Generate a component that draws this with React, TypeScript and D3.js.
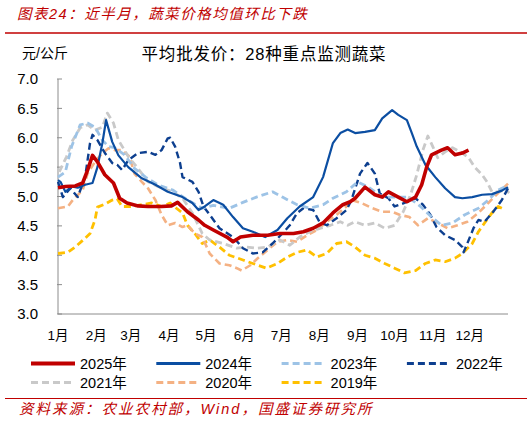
import { useMemo } from "react";
import * as d3 from "d3";

type Pt = [number, number]; // [day of year, 元/公斤]

const WIDTH = 531;
const HEIGHT = 421;
const FONT = "'Liberation Sans', 'Noto Sans CJK SC', sans-serif";
const RED = "#c00000";

const months = ["1月", "2月", "3月", "4月", "5月", "6月", "7月", "8月", "9月", "10月", "11月", "12月"];
const monthStartDays = [0, 31, 59, 90, 120, 151, 181, 212, 243, 273, 304, 334];
const yTicks = [3.0, 3.5, 4.0, 4.5, 5.0, 5.5, 6.0, 6.5, 7.0];

const p2025: Pt[] = [
  [0, 5.15], [6, 5.17], [14, 5.18], [20, 5.23], [24, 5.45], [28, 5.7], [32, 5.59], [38, 5.37],
  [45, 5.23], [50, 4.97], [56, 4.89], [65, 4.84], [73, 4.83], [84, 4.83], [92, 4.84], [97, 4.9],
  [105, 4.74], [114, 4.6], [119, 4.51], [126, 4.43], [137, 4.31], [142, 4.23], [148, 4.31],
  [158, 4.34], [170, 4.34], [180, 4.37], [191, 4.37], [199, 4.4], [207, 4.46], [215, 4.55],
  [223, 4.72], [231, 4.86], [237, 4.91], [241, 4.97], [249, 5.16], [257, 5.03], [263, 4.99],
  [268, 5.08], [276, 4.99], [283, 4.91], [290, 4.99], [295, 5.2], [299, 5.5], [303, 5.71],
  [311, 5.79], [316, 5.83], [322, 5.71], [328, 5.74], [333, 5.79],
];

const p2024: Pt[] = [
  [0, 5.28], [2, 5.25], [6, 5.08], [11, 5.17], [16, 5.15], [22, 5.2], [28, 5.23], [32, 5.5],
  [36, 5.91], [39, 6.3], [44, 5.93], [49, 5.7], [57, 5.5], [68, 5.31], [79, 5.2], [89, 5.08],
  [101, 4.99], [109, 4.89], [114, 4.77], [119, 4.83], [126, 4.94], [134, 4.86], [142, 4.65],
  [150, 4.46], [158, 4.4], [168, 4.31], [178, 4.43], [186, 4.63], [196, 4.83], [207, 4.99],
  [215, 5.33], [223, 5.91], [229, 6.08], [235, 6.14], [241, 6.08], [249, 6.1], [257, 6.13],
  [263, 6.33], [271, 6.47], [276, 6.39], [283, 6.3], [287, 6.08], [291, 5.85], [298, 5.54],
  [306, 5.33], [314, 5.14], [322, 4.99], [328, 4.97], [336, 4.99], [344, 5.03], [352, 5.04],
  [360, 5.1], [365, 5.16],
];

const p2023: Pt[] = [
  [0, 5.33], [6, 5.42], [11, 5.85], [18, 6.22], [24, 6.25], [30, 6.18], [36, 5.96], [41, 5.85],
  [46, 5.83], [54, 5.71], [62, 5.48], [71, 5.33], [81, 5.2], [93, 5.11], [103, 4.97], [111, 4.87],
  [117, 4.8], [126, 4.85], [139, 4.8], [150, 4.9], [161, 4.99], [174, 5.08], [182, 4.99],
  [194, 4.86], [204, 4.8], [215, 4.86], [223, 4.97], [234, 5.08], [243, 5.25], [251, 5.17],
  [263, 4.99], [273, 4.99], [284, 4.99], [294, 4.83], [303, 4.65], [311, 4.51], [320, 4.55],
  [330, 4.69], [341, 4.8], [349, 4.94], [357, 5.11], [365, 5.19],
];

const p2022: Pt[] = [
  [0, 5.25], [4, 4.99], [10, 5.14], [16, 4.99], [22, 5.33], [26, 5.91], [28, 6.05], [32, 5.96],
  [38, 5.74], [44, 5.57], [48, 5.54], [52, 5.45], [57, 5.62], [65, 5.74], [73, 5.76], [79, 5.71],
  [84, 5.79], [89, 5.99], [91, 6.0], [95, 5.85], [99, 5.57], [101, 5.33], [109, 5.25], [114, 5.08],
  [118, 4.83], [123, 4.69], [131, 4.46], [142, 4.31], [150, 4.12], [158, 4.03], [166, 4.05],
  [174, 4.2], [182, 4.37], [188, 4.51], [194, 4.72], [199, 4.8], [207, 4.77], [212, 4.57],
  [218, 4.51], [226, 4.63], [234, 4.77], [238, 4.94], [245, 5.39], [251, 5.57], [257, 5.39],
  [261, 5.05], [268, 4.97], [273, 4.83], [281, 4.89], [290, 4.97], [296, 4.86], [302, 4.69],
  [307, 4.48], [314, 4.34], [322, 4.26], [328, 4.14], [329, 4.05], [332, 4.2], [337, 4.46],
  [341, 4.6], [346, 4.57], [353, 4.74], [360, 4.94], [365, 5.14],
];

const p2021: Pt[] = [
  [1, 5.42], [7, 5.68], [12, 5.96], [18, 6.17], [24, 6.22], [30, 6.13], [36, 6.18], [40, 6.42],
  [45, 6.25], [49, 5.96], [57, 5.68], [64, 5.5], [73, 5.25], [81, 5.17], [93, 5.08], [101, 4.97],
  [109, 4.72], [117, 4.37], [123, 4.26], [134, 4.2], [145, 4.12], [153, 4.14], [161, 4.12],
  [170, 4.14], [180, 4.26], [188, 4.17], [196, 4.31], [204, 4.4], [213, 4.46], [221, 4.51],
  [229, 4.57], [235, 4.51], [241, 4.57], [249, 4.51], [257, 4.55], [265, 4.46], [273, 4.51],
  [280, 4.74], [286, 5.03], [291, 5.37], [296, 5.79], [300, 6.03], [304, 5.85], [308, 5.66],
  [314, 5.76], [320, 5.83], [328, 5.74], [333, 5.66], [338, 5.5], [344, 5.37], [348, 5.25],
  [352, 5.08], [357, 5.08], [363, 5.11], [366, 5.06],
];

const p2020: Pt[] = [
  [0, 4.8], [8, 4.83], [12, 4.94], [20, 5.11], [24, 5.39], [30, 5.59], [36, 5.74], [41, 5.82],
  [46, 5.79], [52, 5.79], [58, 5.68], [62, 5.39], [68, 5.25], [73, 5.14], [79, 4.94], [84, 4.69],
  [89, 4.51], [95, 4.55], [101, 4.48], [105, 4.51], [111, 4.37], [117, 4.31], [123, 4.03],
  [131, 3.86], [139, 3.83], [145, 3.78], [149, 3.74], [156, 3.83], [162, 3.95], [170, 4.09],
  [178, 4.23], [186, 4.26], [194, 4.23], [202, 4.34], [210, 4.43], [218, 4.57], [226, 4.69],
  [234, 4.83], [238, 4.94], [246, 4.89], [255, 4.8], [263, 4.74], [271, 4.74], [277, 4.69],
  [285, 4.65], [292, 4.51], [300, 4.63], [308, 4.55], [316, 4.46], [324, 4.51], [332, 4.57],
  [341, 4.72], [349, 4.89], [357, 5.06], [365, 5.22],
];

const p2019: Pt[] = [
  [0, 4.03], [8, 4.05], [14, 4.14], [22, 4.29], [26, 4.37], [30, 4.6], [32, 4.82], [38, 4.87],
  [44, 4.94], [48, 4.96], [52, 4.83], [60, 4.83], [68, 4.86], [76, 4.89], [84, 4.83], [91, 4.89],
  [96, 4.8], [101, 4.72], [105, 4.51], [111, 4.37], [117, 4.2], [123, 4.26], [131, 4.14],
  [139, 4.0], [150, 3.92], [158, 3.86], [169, 3.78], [178, 3.86], [186, 3.97], [194, 4.05],
  [202, 4.09], [210, 3.97], [218, 4.03], [226, 4.2], [234, 4.23], [241, 4.14], [249, 4.0],
  [257, 3.95], [265, 3.86], [273, 3.78], [281, 3.7], [290, 3.74], [298, 3.86], [306, 3.92],
  [314, 3.89], [322, 3.95], [328, 4.03], [336, 4.2], [341, 4.4], [346, 4.55], [352, 4.72],
  [357, 4.83], [360, 4.8],
];

// drawing styles, bottom to top
const series = [
  { name: "2019年", data: p2019, color: "#ffc000", w: 2.8, dash: "7 4" },
  { name: "2020年", data: p2020, color: "#f4b183", w: 2.6, dash: "7 4" },
  { name: "2021年", data: p2021, color: "#c9c9c9", w: 2.8, dash: "7 4" },
  { name: "2022年", data: p2022, color: "#0d3f8f", w: 2.4, dash: "7 4" },
  { name: "2023年", data: p2023, color: "#9dc3e6", w: 2.8, dash: "7 4" },
  { name: "2024年", data: p2024, color: "#0b4ea2", w: 2.2, dash: "" },
  { name: "2025年", data: p2025, color: RED, w: 3.6, dash: "" },
];

const legendOrder = ["2025年", "2024年", "2023年", "2022年", "2021年", "2020年", "2019年"];

export default function App() {
  const x = useMemo(() => d3.scaleLinear().domain([0, 365]).range([58, 508]), []);
  const y = useMemo(() => d3.scaleLinear().domain([3, 7]).range([314, 79]), []);
  const line = d3.line<Pt>().x((d) => x(d[0])).y((d) => y(d[1]));

  return (
    <>
      <style>{"body{margin:0}"}</style>
      <svg width={WIDTH} height={HEIGHT} style={{ display: "block", background: "#fff" }} fontFamily={FONT}>
        <text x={17} y={19} fontSize={14.5} fill={RED} fontStyle="italic" letterSpacing={1.5}>
          图表24：近半月，蔬菜价格均值环比下跌
        </text>
        <line x1={5} x2={527} y1={33} y2={33} stroke={RED} strokeWidth={1.6} />

        <text x={22} y={58} fontSize={14} fill="#000">元/公斤</text>
        <text x={264} y={60} fontSize={16.5} fill="#000" textAnchor="middle" letterSpacing={0.8}>
          平均批发价：28种重点监测蔬菜
        </text>

        {/* y axis */}
        <line x1={x(0)} x2={x(0)} y1={y(7)} y2={y(3)} stroke="#8c8c8c" />
        {yTicks.map((t) => (
          <g key={t}>
            <line x1={x(0) - 1} x2={x(0) + 4} y1={y(t)} y2={y(t)} stroke="#8c8c8c" />
            <text x={38} y={y(t)} dy="0.36em" textAnchor="end" fontSize={15} fill="#000">
              {t.toFixed(1)}
            </text>
          </g>
        ))}

        {/* x axis */}
        <line x1={x(0)} x2={x(365)} y1={y(3)} y2={y(3)} stroke="#8c8c8c" />
        {months.map((m, i) => (
          <text key={m} x={x(monthStartDays[i])} y={340} textAnchor="middle" fontSize={13.5} fill="#000">
            {m}
          </text>
        ))}

        {series.map((s) => (
          <path
            key={s.name}
            d={line(s.data) ?? ""}
            fill="none"
            stroke={s.color}
            strokeWidth={s.w}
            strokeDasharray={s.dash || undefined}
            strokeLinejoin="round"
          />
        ))}

        {/* legend */}
        {legendOrder.map((name, i) => {
          const s = series.find((d) => d.name === name)!;
          const col = i % 4;
          const row = Math.floor(i / 4);
          const lx = 31 + col * 125.3;
          const ly = 363.5 + row * 19;
          return (
            <g key={name}>
              <line
                x1={lx}
                x2={lx + 44}
                y1={ly}
                y2={ly}
                stroke={s.color}
                strokeWidth={name === "2025年" ? 4 : 3}
                strokeDasharray={s.dash || undefined}
              />
              <text x={lx + 49} y={ly} dy="0.36em" fontSize={14.5} fill="#000">
                {name}
              </text>
            </g>
          );
        })}

        <line x1={5} x2={527} y1={398.5} y2={398.5} stroke={RED} strokeWidth={1.2} />
        <text x={19} y={414} fontSize={14.5} fill={RED} fontStyle="italic" letterSpacing={2}>
          资料来源：农业农村部，Wind，国盛证券研究所
        </text>
      </svg>
    </>
  );
}
